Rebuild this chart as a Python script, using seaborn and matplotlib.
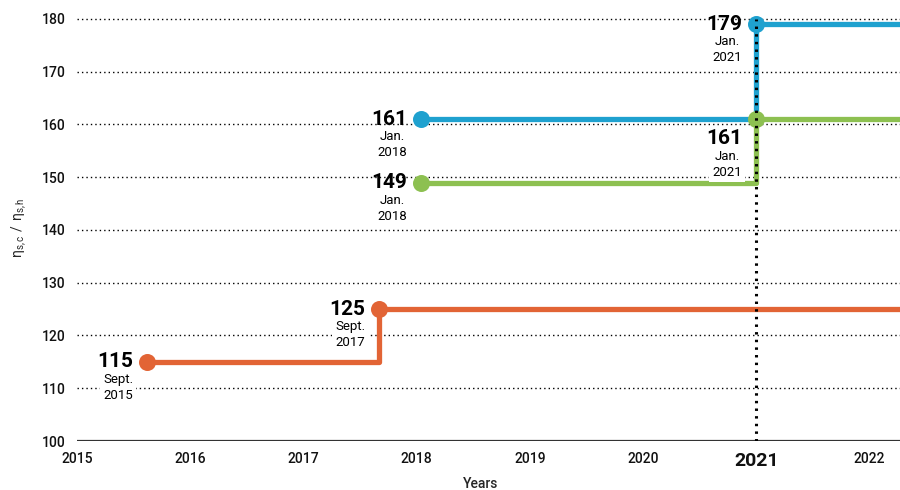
import matplotlib
matplotlib.use("Agg")
import matplotlib.pyplot as plt
import pandas as pd
import seaborn as sns

# Step series: start dates (decimal years) and the ratio values
series_names = ["orange", "green", "blue"]
orange_x = [2015.62, 2017.67, 2022.4]
orange_y = [115, 125, 125]
green_x = [2018.04, 2021.0, 2022.4]
green_y = [149, 161, 161]
blue_x = [2018.04, 2021.0, 2022.4]
blue_y = [161, 179, 179]

# Annotated milestones: (x, value, month, year, label placed below the point)
orange_pts = [(2015.62, 115, "Sept.", "2015", False), (2017.67, 125, "Sept.", "2017", False)]
green_pts = [(2018.04, 149, "Jan.", "2018", False), (2021.0, 161, "Jan.", "2021", True)]
blue_pts = [(2018.04, 161, "Jan.", "2018", False), (2021.0, 179, "Jan.", "2021", False)]

year_ticks = [2015, 2016, 2017, 2018, 2019, 2020, 2021, 2022]
y_ticks = [100, 110, 120, 130, 140, 150, 160, 170, 180]

colors = {"orange": "#E26435", "green": "#8DC051", "blue": "#1FA1CF"}

sns.set_theme(style="white")
plt.rcParams["font.family"] = ["Roboto", "DejaVu Sans"]

df = pd.concat([
    pd.DataFrame({"x": orange_x, "y": orange_y, "s": "orange"}),
    pd.DataFrame({"x": green_x, "y": green_y, "s": "green"}),
    pd.DataFrame({"x": blue_x, "y": blue_y, "s": "blue"}),
])

fig = plt.figure(figsize=(9, 4.9), dpi=100)
ax = fig.add_axes([0.0856, 0.1, 0.9144, 0.872])

ax.set_xlim(2015.0, 2022.27)
ax.set_ylim(100, 181)

# dotted horizontal grid
for yv in y_ticks[1:]:
    ax.axhline(yv, color="black", lw=1.0, ls=(0, (1, 2.2)), zorder=1)
ax.axhline(100, color="#333333", lw=1.6, zorder=2)

sns.lineplot(data=df, x="x", y="y", hue="s", palette=colors, hue_order=series_names,
             drawstyle="steps-post", estimator=None, sort=False, lw=3.8,
             legend=False, ax=ax, zorder=3)

for name, pts in (("orange", orange_pts), ("green", green_pts), ("blue", blue_pts)):
    ax.scatter([p[0] for p in pts], [p[1] for p in pts], s=150, color=colors[name],
               zorder=4, linewidths=0)
    for x, v, month, year, below in pts:
        dy = -14 if below else 0
        ax.annotate(str(v), (x, v), xytext=(-10, dy), textcoords="offset points",
                    ha="right", va="center", fontsize=15, fontweight="bold",
                    color="black", zorder=6)
        ax.annotate(f"{month}\n{year}", (x, v), xytext=(-21, dy - 8),
                    textcoords="offset points", ha="center", va="top",
                    fontsize=9.5, linespacing=1.3, color="black", zorder=5,
                    bbox=dict(boxstyle="square,pad=0.25", fc="white", ec="none"))

# highlighted year marker
ax.vlines(2021.0, 100, 180, color="black", lw=2.2, ls=(0, (0.8, 1.7)), zorder=7)

ax.set_xticks(year_ticks)
ax.set_xticklabels([str(y) for y in year_ticks])
ax.set_yticks(y_ticks)
ax.tick_params(axis="both", length=0, labelsize=10, colors="#111111")
ax.tick_params(axis="y", pad=8)
ax.tick_params(axis="x", pad=8)
for lbl in ax.get_xticklabels():
    lbl.set_fontweight("medium")
    if lbl.get_text() == "2021":
        lbl.set_fontweight("bold")
        lbl.set_fontsize(14)
for lbl in ax.get_yticklabels():
    lbl.set_fontweight("medium")

ax.set_xlabel("Years", fontsize=10, fontweight="medium")
ax.set_ylabel(r"$\mathregular{\eta_{s,c}\ /\ \eta_{s,h}}$", fontsize=10)
ax.xaxis.set_label_coords(0.49, -0.084)
ax.yaxis.set_label_coords(-0.058, 0.5)

for sp in ax.spines.values():
    sp.set_visible(False)

fig.savefig("out.png", dpi=100)
